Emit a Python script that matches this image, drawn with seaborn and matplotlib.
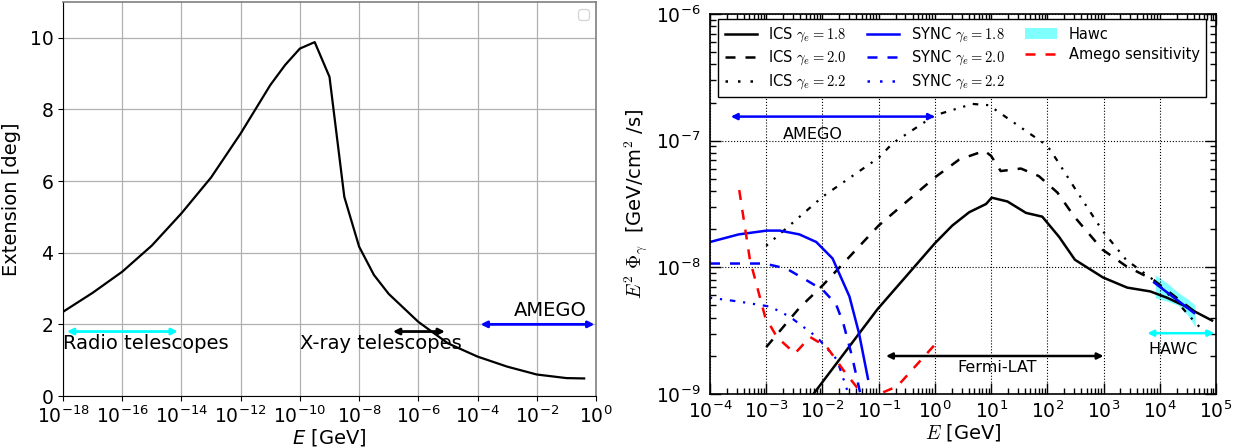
import numpy as np
import pandas as pd
import matplotlib
matplotlib.use("Agg")
import matplotlib.pyplot as plt
import matplotlib.ticker as mticker
from matplotlib.patches import Patch
from matplotlib.lines import Line2D
import seaborn as sns

# ---------------- data (left panel) ----------------
ext_logE = [-18, -17, -16, -15, -14, -13, -12, -11, -10.5, -10, -9.5, -9, -8.5, -8,
            -7.5, -7, -6, -5, -4, -3, -2, -1, -0.4]
ext_deg = [2.35, 2.88, 3.47, 4.2, 5.1, 6.1, 7.33, 8.68, 9.24, 9.7, 9.88, 8.91, 5.56, 4.17,
           3.38, 2.85, 2.07, 1.47, 1.1, 0.82, 0.6, 0.5, 0.49]

left_bands = {  # name: (logE_start, logE_end, y, color)
    "radio": (-17.87, -14.12, 1.8, "cyan"),
    "xray": (-6.86, -5.1, 1.8, "black"),
    "amego": (-3.9, -0.05, 2.0, "blue"),
}
left_texts = [("Radio telescopes", -18.0, 1.47, "left"),
              ("X-ray telescopes", -10.0, 1.47, "left"),
              ("AMEGO", -0.3, 2.38, "right")]

# ---------------- data (right panel, log10 values) ----------------
ics18_x = [-2.16, -1.02, 0.0, 0.31, 0.61, 0.91, 1.01, 1.29, 1.62, 1.91, 2.21, 2.49, 2.99,
           3.42, 3.83, 4.13, 4.42, 4.67, 4.93]
ics18_y = [-9.0, -8.33, -7.81, -7.67, -7.565, -7.50, -7.45, -7.48, -7.57, -7.60, -7.76, -7.94,
           -8.08, -8.16, -8.19, -8.24, -8.30, -8.36, -8.42]

ics20_x = [-3.0, -2.41, -1.99, -1.0, 0.0, 0.43, 0.88, 1.0, 1.17, 1.53, 1.85, 2.18, 2.48,
           2.98, 3.40, 3.89, 4.24, 4.62]
ics20_y = [-8.63, -8.32, -8.14, -7.67, -7.29, -7.15, -7.08, -7.12, -7.24, -7.22, -7.28, -7.41,
           -7.60, -7.86, -7.99, -8.10, -8.22, -8.35]

ics22_x = [-3.0, -1.99, -1.0, -0.75, 0.0, 0.67, 0.96, 1.38, 2.0, 2.18, 2.48, 2.98, 3.40,
           3.89, 4.38, 4.66, 4.85]
ics22_y = [-7.83, -7.44, -7.135, -7.02, -6.80, -6.71, -6.72, -6.85, -7.04, -7.16, -7.37,
           -7.71, -7.94, -8.10, -8.31, -8.45, -8.53]

sync18_x = [-4.0, -3.49, -2.99, -2.76, -2.41, -2.11, -1.82, -1.52, -1.35, -1.19]
sync18_y = [-7.80, -7.74, -7.71, -7.71, -7.74, -7.80, -7.93, -8.23, -8.52, -8.88]

sync20_x = [-4.0, -3.49, -3.03, -2.64, -2.29, -1.99, -1.76, -1.63, -1.47, -1.33]
sync20_y = [-7.97, -7.97, -7.97, -8.01, -8.10, -8.18, -8.29, -8.44, -8.71, -8.99]

sync22_x = [-4.0, -3.49, -2.93, -2.58, -2.10, -1.74, -1.56]
sync22_y = [-8.24, -8.27, -8.31, -8.39, -8.55, -8.73, -8.97]

amego_x = [-3.48, -3.29, -3.02, -2.81, -2.49, -2.22, -1.92, -1.63, -1.33, -1.2, -0.94, -0.67, 0.0]
amego_y = [-7.39, -7.94, -8.39, -8.55, -8.68, -8.55, -8.63, -8.81, -8.98, -9.02, -8.99, -8.94, -8.61]

hawc_x = [3.92, 4.15, 4.33, 4.5, 4.63]
hawc_hi = [-8.06, -8.13, -8.20, -8.25, -8.30]
hawc_lo = [-8.24, -8.27, -8.30, -8.38, -8.47]
hawc_fit_x = [3.90, 4.61]
hawc_fit_y = [-8.12, -8.36]

right_bands = {
    "amego": (-3.63, 0.0, -6.81, "blue"),
    "fermi": (-0.87, 3.0, -8.70, "black"),
    "hawc": (3.78, 4.97, -8.52, "cyan"),
}
right_texts = [("AMEGO", -2.18, -6.95), ("Fermi-LAT", 1.1, -8.79), ("HAWC", 4.24, -8.65)]

legend_labels = [r"ICS $\gamma_e=1.8$", r"ICS $\gamma_e=2.0$", r"ICS $\gamma_e=2.2$",
                 r"SYNC $\gamma_e=1.8$", r"SYNC $\gamma_e=2.0$", r"SYNC $\gamma_e=2.2$",
                 "Hawc", "Amego sensitivity"]

# ---------------- figure ----------------
W, H = 1240, 448
fig = plt.figure(figsize=(W / 100, H / 100), dpi=100)
ax1 = fig.add_axes([63 / W, 1 - 396 / H, 533 / W, 394 / H])
ax2 = fig.add_axes([710 / W, 1 - 394 / H, 506 / W, 380 / H])

def p10(a):
    return np.power(10.0, np.asarray(a, dtype=float))

# ----- left panel -----
ax1.set_xscale("log")
df_ext = pd.DataFrame({"E": p10(ext_logE), "ext": ext_deg})
sns.lineplot(data=df_ext, x="E", y="ext", ax=ax1, color="black", lw=1.6,
             sort=False, estimator=None)
ax1.set_xlim(1e-18, 1)
ax1.set_ylim(0, 11)
ax1.set_xticks(p10(np.arange(-18, 1, 2)))
ax1.xaxis.set_minor_locator(mticker.NullLocator())
ax1.set_yticks([0, 2, 4, 6, 8, 10])
ax1.grid(True, color="#b0b0b0", lw=0.9)
ax1.set_axisbelow(True)
ax1.tick_params(labelsize=13.5, length=3.5)
for s in ["top", "right"]:
    ax1.spines[s].set_color("0.5")
    ax1.spines[s].set_linewidth(1.2)
ax1.set_xlabel(r"$E$ [GeV]", fontsize=14, labelpad=0)
ax1.set_ylabel("Extension [deg]", fontsize=14, labelpad=6)
for name, (a, b, y, c) in left_bands.items():
    ax1.annotate("", xy=(10 ** b, y), xytext=(10 ** a, y),
                 arrowprops=dict(arrowstyle="<|-|>", color=c, lw=2, shrinkA=0, shrinkB=0,
                                 mutation_scale=9))
for t, x, y, ha in left_texts:
    ax1.text(10 ** x, y, t, fontsize=14, ha=ha, va="center")
ax1.legend(handles=[], loc="upper right")

# ----- right panel -----
ax2.set_xscale("log")
ax2.set_yscale("log")
dd = (0, (1.0, 3.5, 1.0, 3.5, 2.5, 3.5))
dash = (0, (4, 4))
curves = [
    (ics18_x, ics18_y, "black", "-", 1.8),
    (ics20_x, ics20_y, "black", dash, 1.8),
    (ics22_x, ics22_y, "black", dd, 1.6),
    (sync18_x, sync18_y, "blue", "-", 1.8),
    (sync20_x, sync20_y, "blue", dash, 1.8),
    (sync22_x, sync22_y, "blue", dd, 1.6),
]
for x, y, c, ls, lw in curves:
    d = pd.DataFrame({"E": p10(x), "F": p10(y)})
    sns.lineplot(data=d, x="E", y="F", ax=ax2, color=c, linestyle=ls, lw=lw,
                 sort=False, estimator=None)
d_am = pd.DataFrame({"E": p10(amego_x), "F": p10(amego_y)})
sns.lineplot(data=d_am, x="E", y="F", ax=ax2, color="red", linestyle=dash, lw=1.8,
             sort=False, estimator=None)
ax2.fill_between(p10(hawc_x), p10(hawc_lo), p10(hawc_hi), color="cyan", alpha=0.5, lw=0)
sns.lineplot(x=p10(hawc_fit_x), y=p10(hawc_fit_y), ax=ax2, color="blue", lw=1.8)

ax2.set_xlim(1e-4, 1e5)
ax2.set_ylim(1e-9, 1e-6)
ax2.xaxis.set_major_locator(mticker.LogLocator(base=10, numticks=20))
ax2.xaxis.set_minor_locator(mticker.LogLocator(base=10, subs=np.arange(2, 10), numticks=20))
ax2.yaxis.set_major_locator(mticker.LogLocator(base=10, numticks=20))
ax2.yaxis.set_minor_locator(mticker.LogLocator(base=10, subs=np.arange(2, 10), numticks=20))
ax2.xaxis.set_minor_formatter(mticker.NullFormatter())
ax2.yaxis.set_minor_formatter(mticker.NullFormatter())
ax2.tick_params(which="both", direction="in", top=True, right=True, labelsize=13.5, width=1)
ax2.tick_params(which="major", length=8, pad=5)
ax2.tick_params(which="minor", length=4)
ax2.tick_params(axis="y", which="major", pad=7)
ax2.grid(True, which="major", color="black", ls=":", lw=0.8)
for s in ax2.spines.values():
    s.set_linewidth(1.2)
ax2.set_xlabel(r"$E$ [GeV]", fontsize=14, math_fontfamily="cm", labelpad=0)
ax2.set_ylabel(r"$E^2\ \Phi_\gamma$  [GeV/cm$^2$ /s]", fontsize=14, math_fontfamily="cm",
               labelpad=4)
for name, (a, b, y, c) in right_bands.items():
    ax2.annotate("", xy=(10 ** b, 10 ** y), xytext=(10 ** a, 10 ** y),
                 arrowprops=dict(arrowstyle="<|-|>", color=c, lw=1.8, shrinkA=0, shrinkB=0,
                                 mutation_scale=9))
for t, x, y in right_texts:
    ax2.text(10 ** x, 10 ** y, t, fontsize=11.5, ha="center", va="center")

handles = [
    Line2D([], [], color="black", ls="-", lw=1.8),
    Line2D([], [], color="black", ls=dash, lw=1.8),
    Line2D([], [], color="black", ls=(0, (1, 4)), lw=1.8),
    Line2D([], [], color="blue", ls="-", lw=1.8),
    Line2D([], [], color="blue", ls=dash, lw=1.8),
    Line2D([], [], color="blue", ls=(0, (1, 4)), lw=1.8),
    Patch(facecolor="cyan", alpha=0.5, lw=0),
    Line2D([], [], color="red", ls=dash, lw=1.8),
]
leg = ax2.legend(handles, legend_labels, ncol=3, loc="upper left",
                 bbox_to_anchor=(0.016, 0.987),
                 fontsize=10.5, frameon=True, fancybox=False, framealpha=1,
                 edgecolor="black", handlelength=2.2, handletextpad=0.8,
                 borderaxespad=0, borderpad=0.45, labelspacing=0.35, columnspacing=1.4)
leg.get_frame().set_linewidth(1.0)
for t in leg.get_texts():
    t.set_math_fontfamily("cm")

fig.savefig("out.png", dpi=100)
